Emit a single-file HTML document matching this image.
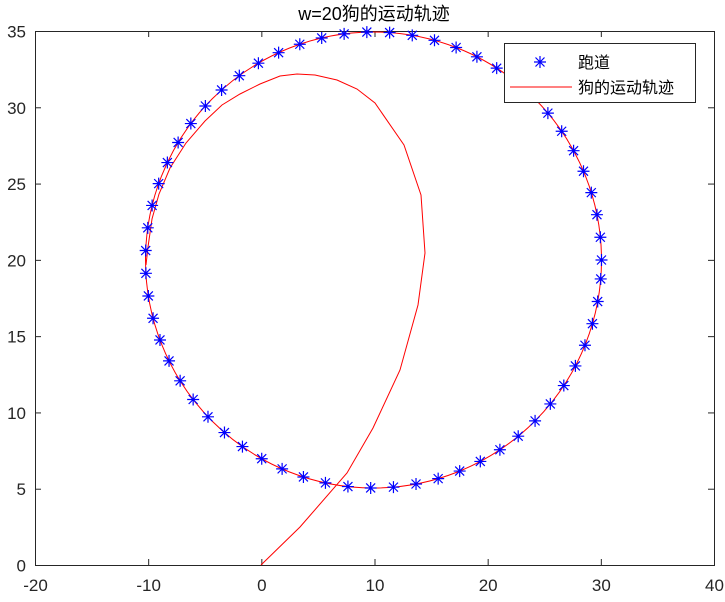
<!DOCTYPE html>
<html><head><meta charset="utf-8"><style>body{margin:0;background:#fff}</style></head><body>
<svg width="725" height="597" xmlns="http://www.w3.org/2000/svg" font-family="Liberation Sans, Noto Sans CJK SC, sans-serif">
<rect width="725" height="597" fill="#fff"/>
<g id="ticks" stroke="#262626" stroke-width="1"></g>
<rect x="35.5" y="31.5" width="679" height="534" fill="none" stroke="#262626"/>
<g font-size="17" fill="#262626" text-anchor="middle" id="xl"></g>
<g font-size="17" fill="#262626" text-anchor="end" id="yl"></g>
<text x="374" y="20" font-size="18" text-anchor="middle" fill="#000">w=20狗的运动轨迹</text>
<circle cx="373.5" cy="260" r="228" fill="none" stroke="#f00" stroke-width="1"/>
<polyline fill="none" stroke="#f00" stroke-width="1" points="261,565 300,527 347,473 373,428 400,370 418,305 425,253 421,195 404,145 375,103 357,89 337,80 315,75 297,74 280,76 260,84 240,94 222,105 205,121 186,143 170,168 159,194 152,219 148,247 146,265"/>
<g id="stars" stroke="#00f" stroke-width="1.2"></g>
<rect x="504.5" y="43.5" width="191" height="59" fill="#fff" stroke="#262626"/>
<g stroke="#00f" stroke-width="1.2" transform="translate(540,62)"><path d="M-6 0H6M0-6V6M-4.5-4.5L4.5 4.5M-4.5 4.5L4.5-4.5"/></g>
<line x1="510" y1="87" x2="572" y2="87" stroke="#f00"/>
<text x="578" y="68" font-size="16" fill="#000">跑道</text>
<text x="578" y="93" font-size="16" fill="#000">狗的运动轨迹</text>
<script>
var ns="http://www.w3.org/2000/svg";
function el(p,t,a,txt){var e=document.createElementNS(ns,t);for(var k in a)e.setAttribute(k,a[k]);if(txt!==undefined)e.textContent=txt;p.appendChild(e);}
var tk=document.getElementById("ticks"),xl=document.getElementById("xl"),yl=document.getElementById("yl");
for(var v=-20;v<=40;v+=10){var x=35.5+(v+20)*679/60;el(tk,"line",{x1:x,y1:565,x2:x,y2:559});el(tk,"line",{x1:x,y1:31,x2:x,y2:37});el(xl,"text",{x:x,y:591},String(v));}
for(var v=0;v<=35;v+=5){var y=565.5-v*534/35;el(tk,"line",{x1:35,y1:y,x2:41,y2:y});el(tk,"line",{x1:714,y1:y,x2:708,y2:y});el(yl,"text",{x:26,y:y+6},String(v));}
var st=document.getElementById("stars");
for(var k=0;k<=62;k++){var a=k*0.1,cx=373.5+228*Math.cos(a),cy=260-228*Math.sin(a);
el(st,"path",{d:"M"+(cx-6)+" "+cy+"h12M"+cx+" "+(cy-6)+"v12M"+(cx-4.5)+" "+(cy-4.5)+"l9 9M"+(cx-4.5)+" "+(cy+4.5)+"l9 -9"});}
</script>
</svg>
</body></html>
